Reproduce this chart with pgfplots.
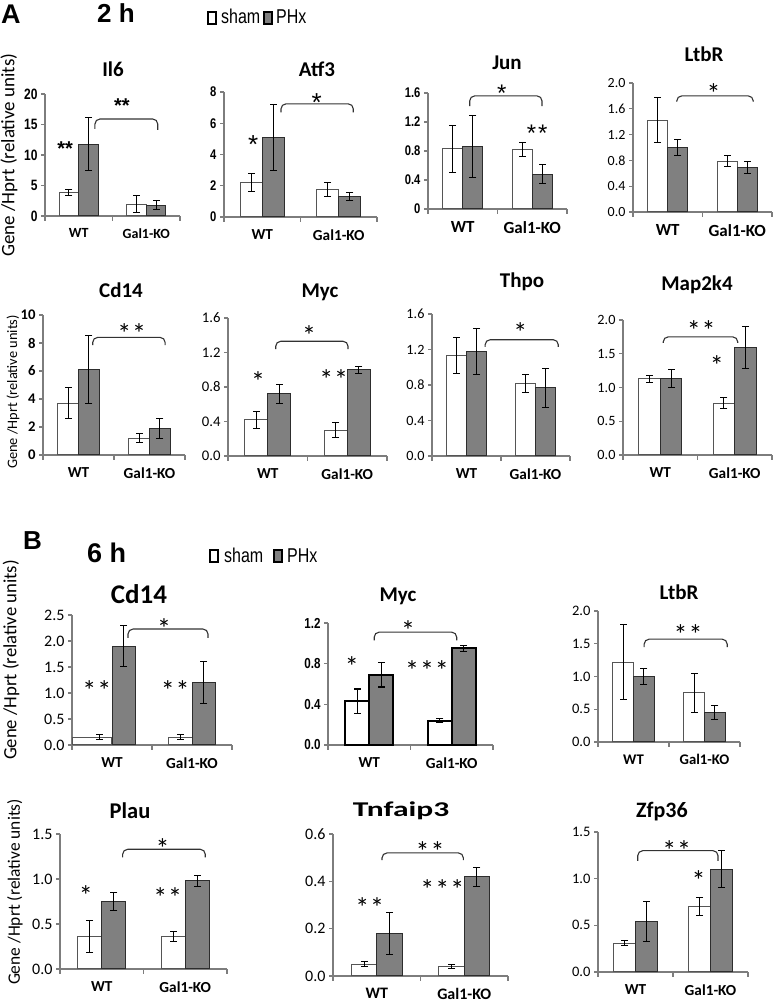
\documentclass[border=0pt]{standalone}
\usepackage{fontspec}
\setmainfont{Carlito}
\newfontfamily\arialf{Liberation Sans}
\newfontfamily\narrowf[FakeStretch=0.8]{Liberation Sans}
\usepackage{pgfplots}
\pgfplotsset{compat=1.18}
\newcommand{\fs}[1]{\fontsize{#1}{#1}\selectfont}
\definecolor{phxc}{RGB}{128,128,128}
\definecolor{phxedge}{RGB}{45,45,45}
\definecolor{shamedge}{RGB}{85,85,85}
\definecolor{axgray}{RGB}{125,125,125}
\definecolor{brkc}{RGB}{50,50,50}
\pgfplotsset{
 panel/.style={scale only axis, anchor=south west,
   axis x line*=bottom, axis y line*=left,
   axis line style={draw=axgray, line width=1.2pt},
   xmin=-0.5, xmax=1.5, ymin=0,
   xtick={0,1}, xticklabels={WT,Gal1-KO},
   minor xtick={-0.5,0.5,1.5},
   tick align=outside,
   tick style={draw=axgray, line width=1.1pt},
   major tick length=4pt, minor tick length=5pt,
   major x tick style={draw=none},
   clip=false,
   xticklabel style={font=\fs{15.3}\bfseries, yshift=-5pt},
   yticklabel style={font=\fs{14.5}}},
 shamb/.style={ybar, bar width=0.29, bar shift=0pt, fill=white, draw=shamedge, line width=1pt},
 phxb/.style={ybar, bar width=0.29, bar shift=0pt, fill=phxc, draw=phxedge, line width=1pt},
 errl/.style={forget plot, draw=black, line width=1pt, mark=-, mark size=3.5pt,
   mark options={solid, draw=black, line width=1pt}, unbounded coords=jump},
}
\tikzset{
 star/.style={anchor=north, inner sep=0pt, font=\fs{28}},
 brk/.style={draw=brkc, line width=1.1pt, rounded corners=5pt},
}
\begin{document}
\begin{tikzpicture}[x=1pt,y=1pt]
\path[use as bounding box] (0,0) rectangle (773,1002);
% headers
\node[anchor=base west, font=\arialf\bfseries\fs{27}, inner sep=0pt] at (1,978) {A};
\node[anchor=base west, font=\arialf\bfseries\fs{26}, inner sep=0pt] at (97,979) {2 h};
\draw[line width=1.3pt, fill=white] (208,978) rectangle (216,990);
\node[anchor=base west, font=\narrowf\fs{20}, inner sep=0pt] at (221,978) {sham};
\draw[line width=1.3pt, fill=phxc] (264,978) rectangle (272,990);
\node[anchor=base west, font=\narrowf\fs{20}, inner sep=0pt] at (276,978) {PHx};
\node[anchor=base west, font=\arialf\bfseries\fs{26}, inner sep=0pt] at (23,452) {B};
\node[anchor=base west, font=\arialf\bfseries\fs{27}, inner sep=0pt] at (87,439) {6 h};
\draw[line width=1.3pt, fill=white] (210,440) rectangle (218,452);
\node[anchor=base west, font=\narrowf\fs{20}, inner sep=0pt] at (224,439) {sham};
\draw[line width=1.3pt, fill=phxc] (274,440) rectangle (282,452);
\node[anchor=base west, font=\narrowf\fs{20}, inner sep=0pt] at (287,439) {PHx};
% y labels
\node[rotate=90, font=\fs{19}, inner sep=0pt] at (9,847) {Gene /Hprt (relative units)};
\node[rotate=90, font=\fs{14.4}, inner sep=0pt] at (13,610) {Gene /Hprt (relative units)};
\node[rotate=90, font=\fs{18.7}, inner sep=0pt] at (11,342) {Gene /Hprt (relative units)};
\node[rotate=90, font=\fs{17.4}, inner sep=0pt] at (15,110) {Gene /Hprt (relative units)};
% titles
\node[anchor=base, font=\bfseries\fs{21}] at (113,925) {Il6};
\node[anchor=base, font=\bfseries\fs{21}] at (317,925) {Atf3};
\node[anchor=base, font=\bfseries\fs{21}] at (507,932) {Jun};
\node[anchor=base, font=\bfseries\fs{21}] at (704,940) {LtbR};
\node[anchor=base, font=\bfseries\fs{21}] at (121,704) {Cd14};
\node[anchor=base, font=\bfseries\fs{21}] at (320,704) {Myc};
\node[anchor=base, font=\bfseries\fs{21}] at (522,714) {Thpo};
\node[anchor=base, font=\bfseries\fs{21}] at (697,711) {Map2k4};
\node[anchor=base, font=\bfseries\fs{27}] at (139,398) {Cd14};
\node[anchor=base, font=\bfseries\fs{21}] at (398,400) {Myc};
\node[anchor=base, font=\bfseries\fs{21}] at (679,402) {LtbR};
\node[anchor=base, font=\bfseries\fs{22.5}] at (130,183) {Plau};
\node[anchor=base, font=\bfseries\fs{21}, xscale=1.5] at (401,185) {Tnfaip3};
\node[anchor=base, font=\bfseries\fs{22}] at (662,184) {Zfp36};

% ---------- Il6
\begin{axis}[panel, at={(45pt,786pt)}, width=135pt, height=122pt, ymax=20,
  ytick={0,5,10,15,20}, yticklabels={0,5,10,15,20},
  yticklabel style={font=\narrowf\bfseries\fs{15}}, xticklabel style={font=\fs{14}\bfseries}]
\addplot[shamb] table[row sep=\\,x=x,y=y]{x y\\ -0.145 3.8\\ 0.855 1.9\\};
\addplot[phxb] table[row sep=\\,x=x,y=y]{x y\\ 0.145 11.8\\ 1.145 1.8\\};
\addplot[errl] coordinates {(-0.145,3.3) (-0.145,4.3) (0,nan) (0.855,0.5) (0.855,3.3) (0,nan) (0.145,7.4) (0.145,16.2) (0,nan) (1.145,1.0) (1.145,2.6)};
\draw[brk] (axis cs:0.24,14.3) -- (axis cs:0.24,15.9) -- (axis cs:1.17,15.9) -- (axis cs:1.17,14.1);
\node[star, font=\arialf\bfseries\fs{20}] at (axis cs:-0.2,12.2) {**};
\node[star, font=\arialf\bfseries\fs{20}] at (axis cs:0.64,19.3) {**};
\end{axis}
% ---------- Atf3
\begin{axis}[panel, at={(224pt,785pt)}, width=153pt, height=125pt, ymax=8,
  ytick={0,2,4,6,8}, yticklabels={0,2,4,6,8},
  yticklabel style={font=\narrowf\bfseries\fs{14}}]
\addplot[shamb] table[row sep=\\,x=x,y=y]{x y\\ -0.145 2.2\\ 0.855 1.75\\};
\addplot[phxb] table[row sep=\\,x=x,y=y]{x y\\ 0.145 5.1\\ 1.145 1.3\\};
\addplot[errl] coordinates {(-0.145,1.6) (-0.145,2.8) (0,nan) (0.855,1.3) (0.855,2.2) (0,nan) (0.145,3.0) (0.145,7.2) (0,nan) (1.145,1.05) (1.145,1.55)};
\draw[brk] (axis cs:0.245,6.7) -- (axis cs:0.245,7.24) -- (axis cs:1.19,7.24) -- (axis cs:1.19,6.7);
\node[star, font=\arialf\fs{26}] at (axis cs:0.71,7.9) {*};
\node[star, font=\arialf\fs{26}] at (axis cs:-0.12,5.25) {*};
\end{axis}
% ---------- Jun
\begin{axis}[panel, at={(428pt,793pt)}, width=139pt, height=116pt, ymax=1.6,
  ytick={0,0.4,0.8,1.2,1.6}, yticklabels={0,0.4,0.8,1.2,1.6},
  yticklabel style={font=\narrowf\bfseries\fs{14}}, xticklabel style={font=\fs{17}\bfseries}]
\addplot[shamb] table[row sep=\\,x=x,y=y]{x y\\ -0.145 0.83\\ 0.855 0.82\\};
\addplot[phxb] table[row sep=\\,x=x,y=y]{x y\\ 0.145 0.86\\ 1.145 0.48\\};
\addplot[errl] coordinates {(-0.145,0.51) (-0.145,1.15) (0,nan) (0.855,0.72) (0.855,0.92) (0,nan) (0.145,0.43) (0.145,1.29) (0,nan) (1.145,0.35) (1.145,0.61)};
\draw[brk] (axis cs:0.10,1.42) -- (axis cs:0.10,1.56) -- (axis cs:1.14,1.56) -- (axis cs:1.14,1.42);
\node[star, font=\arialf\fs{24}] at (axis cs:0.56,1.71) {*};
\node[star, font=\arialf\fs{24}] at (axis cs:1.07,1.16) {*\kern2pt*};
\end{axis}
% ---------- LtbR (2h)
\begin{axis}[panel, at={(633pt,790pt)}, width=139pt, height=129pt, ymax=2,
  ytick={0,0.4,0.8,1.2,1.6,2.0}, yticklabels={0.0,0.4,0.8,1.2,1.6,2.0},
  yticklabel style={font=\fs{14}}, xticklabel style={font=\fs{17}\bfseries}]
\addplot[shamb] table[row sep=\\,x=x,y=y]{x y\\ -0.145 1.42\\ 0.855 0.79\\};
\addplot[phxb] table[row sep=\\,x=x,y=y]{x y\\ 0.145 1.0\\ 1.145 0.69\\};
\addplot[errl] coordinates {(-0.145,1.07) (-0.145,1.77) (0,nan) (0.855,0.70) (0.855,0.88) (0,nan) (0.145,0.88) (0.145,1.12) (0,nan) (1.145,0.60) (1.145,0.78)};
\draw[brk] (axis cs:0.13,1.71) -- (axis cs:0.13,1.80) -- (axis cs:1.23,1.80) -- (axis cs:1.23,1.71);
\node[star] at (axis cs:0.66,2.0) {*};
\end{axis}
% ---------- Cd14 (2h)
\begin{axis}[panel, at={(43pt,547pt)}, width=142pt, height=140pt, ymax=10,
  ytick={0,2,4,6,8,10}, yticklabels={0,2,4,6,8,10},
  yticklabel style={font=\fs{14.7}\bfseries}]
\addplot[shamb] table[row sep=\\,x=x,y=y]{x y\\ -0.145 3.7\\ 0.855 1.2\\};
\addplot[phxb] table[row sep=\\,x=x,y=y]{x y\\ 0.145 6.1\\ 1.145 1.9\\};
\addplot[errl] coordinates {(-0.145,2.6) (-0.145,4.8) (0,nan) (0.855,0.9) (0.855,1.5) (0,nan) (0.145,3.7) (0.145,8.5) (0,nan) (1.145,1.2) (1.145,2.6)};
\draw[brk] (axis cs:0.20,7.85) -- (axis cs:0.20,8.4) -- (axis cs:1.22,8.4) -- (axis cs:1.22,7.85);
\node[star] at (axis cs:0.75,9.4) {*\kern1pt*};
\end{axis}
% ---------- Myc (2h)
\begin{axis}[panel, at={(228pt,546pt)}, width=159pt, height=138pt, ymax=1.6,
  ytick={0,0.4,0.8,1.2,1.6}, yticklabels={0.0,0.4,0.8,1.2,1.6},
  yticklabel style={font=\fs{14.7}}]
\addplot[shamb] table[row sep=\\,x=x,y=y]{x y\\ -0.145 0.42\\ 0.855 0.3\\};
\addplot[phxb] table[row sep=\\,x=x,y=y]{x y\\ 0.145 0.72\\ 1.145 1.0\\};
\addplot[errl] coordinates {(-0.145,0.32) (-0.145,0.52) (0,nan) (0.855,0.21) (0.855,0.39) (0,nan) (0.145,0.61) (0.145,0.83) (0,nan) (1.145,0.96) (1.145,1.04)};
\draw[brk] (axis cs:0.10,1.24) -- (axis cs:0.10,1.33) -- (axis cs:1.01,1.33) -- (axis cs:1.01,1.24);
\node[star] at (axis cs:0.52,1.51) {*};
\node[star] at (axis cs:-0.12,0.98) {*};
\node[star] at (axis cs:0.83,1.0) {*\kern1pt*};
\end{axis}
% ---------- Thpo
\begin{axis}[panel, at={(432pt,546pt)}, width=138pt, height=142pt, ymax=1.6,
  ytick={0,0.4,0.8,1.2,1.6}, yticklabels={0.0,0.4,0.8,1.2,1.6},
  yticklabel style={font=\fs{14.2}}]
\addplot[shamb] table[row sep=\\,x=x,y=y]{x y\\ -0.145 1.13\\ 0.855 0.82\\};
\addplot[phxb] table[row sep=\\,x=x,y=y]{x y\\ 0.145 1.18\\ 1.145 0.77\\};
\addplot[errl] coordinates {(-0.145,0.93) (-0.145,1.33) (0,nan) (0.855,0.72) (0.855,0.92) (0,nan) (0.145,0.92) (0.145,1.44) (0,nan) (1.145,0.55) (1.145,0.99)};
\draw[brk] (axis cs:0.27,1.23) -- (axis cs:0.27,1.31) -- (axis cs:1.33,1.31) -- (axis cs:1.33,1.23);
\node[star] at (axis cs:0.78,1.5) {*};
\end{axis}
% ---------- Map2k4
\begin{axis}[panel, at={(623pt,547pt)}, width=149pt, height=135pt, ymax=2,
  ytick={0,0.5,1,1.5,2}, yticklabels={0.0,0.5,1.0,1.5,2.0},
  yticklabel style={font=\fs{14.2}}]
\addplot[shamb] table[row sep=\\,x=x,y=y]{x y\\ -0.145 1.13\\ 0.855 0.77\\};
\addplot[phxb] table[row sep=\\,x=x,y=y]{x y\\ 0.145 1.13\\ 1.145 1.59\\};
\addplot[errl] coordinates {(-0.145,1.08) (-0.145,1.18) (0,nan) (0.855,0.69) (0.855,0.85) (0,nan) (0.145,1.0) (0.145,1.26) (0,nan) (1.145,1.28) (1.145,1.90)};
\draw[brk] (axis cs:0.04,1.66) -- (axis cs:0.04,1.75) -- (axis cs:1.04,1.75) -- (axis cs:1.04,1.66);
\node[star] at (axis cs:0.55,2.0) {*\kern1pt*};
\node[star] at (axis cs:0.76,1.48) {*};
\end{axis}
% ---------- Cd14 (6h)
\begin{axis}[panel, at={(72pt,257pt)}, width=160pt, height=130pt, ymax=2.5,
  ytick={0,0.5,1,1.5,2,2.5}, yticklabels={0.0,0.5,1.0,1.5,2.0,2.5},
  yticklabel style={font=\fs{16}}]
\addplot[shamb, bar width=0.49] table[row sep=\\,x=x,y=y]{x y\\ -0.255 0.15\\};
\addplot[shamb] table[row sep=\\,x=x,y=y]{x y\\ 0.855 0.15\\};
\addplot[phxb] table[row sep=\\,x=x,y=y]{x y\\ 0.145 1.9\\ 1.145 1.2\\};
\addplot[errl] coordinates {(-0.16,0.10) (-0.16,0.20) (0,nan) (0.855,0.10) (0.855,0.20) (0,nan) (0.145,1.5) (0.145,2.3) (0,nan) (1.145,0.8) (1.145,1.6)};
\draw[brk] (axis cs:0.2,2.06) -- (axis cs:0.2,2.23) -- (axis cs:1.2,2.23) -- (axis cs:1.2,2.06);
\node[star] at (axis cs:0.65,2.44) {*};
\node[star] at (axis cs:-0.19,1.25) {*\kern1pt*};
\node[star] at (axis cs:0.79,1.25) {*\kern1pt*};
\end{axis}
% ---------- Myc (6h)
\begin{axis}[panel, at={(328pt,257pt)}, width=165pt, height=122pt, ymax=1.2,
  ytick={0,0.4,0.8,1.2}, yticklabels={0.0,0.4,0.8,1.2},
  yticklabel style={font=\narrowf\bfseries\fs{14.5}}]
\addplot[shamb, draw=black, line width=2pt] table[row sep=\\,x=x,y=y]{x y\\ -0.145 0.43\\ 0.855 0.24\\};
\addplot[phxb, draw=black, line width=2pt] table[row sep=\\,x=x,y=y]{x y\\ 0.145 0.69\\ 1.145 0.95\\};
\addplot[errl, line width=1.4pt, mark options={solid, draw=black, line width=1.4pt}] coordinates {(-0.145,0.31) (-0.145,0.55) (0,nan) (0.855,0.22) (0.855,0.26) (0,nan) (0.145,0.57) (0.145,0.81) (0,nan) (1.145,0.92) (1.145,0.98)};
\draw[brk] (axis cs:0.06,1.03) -- (axis cs:0.06,1.11) -- (axis cs:1.06,1.11) -- (axis cs:1.06,1.03);
\node[star] at (axis cs:0.47,1.23) {*};
\node[star] at (axis cs:-0.21,0.87) {*};
\node[star] at (axis cs:0.70,0.83) {*\kern1pt*\kern1pt*};
\end{axis}
% ---------- LtbR (6h)
\begin{axis}[panel, at={(598pt,260pt)}, width=142pt, height=131pt, ymax=2,
  ytick={0,0.5,1,1.5,2}, yticklabels={0.0,0.5,1.0,1.5,2.0},
  yticklabel style={font=\fs{14.5}}, xticklabel style={font=\fs{14.7}\bfseries}]
\addplot[shamb] table[row sep=\\,x=x,y=y]{x y\\ -0.145 1.22\\ 0.855 0.75\\};
\addplot[phxb] table[row sep=\\,x=x,y=y]{x y\\ 0.145 1.0\\ 1.145 0.45\\};
\addplot[errl] coordinates {(-0.145,0.65) (-0.145,1.79) (0,nan) (0.855,0.45) (0.855,1.05) (0,nan) (0.145,0.88) (0.145,1.12) (0,nan) (1.145,0.35) (1.145,0.55)};
\draw[brk] (axis cs:0.15,1.45) -- (axis cs:0.15,1.57) -- (axis cs:1.32,1.57) -- (axis cs:1.32,1.45);
\node[star] at (axis cs:0.77,1.8) {*\kern1pt*};
\end{axis}
% ---------- Plau
\begin{axis}[panel, at={(60pt,33pt)}, width=167pt, height=135pt, ymax=1.5,
  ytick={0,0.5,1,1.5}, yticklabels={0.0,0.5,1.0,1.5},
  yticklabel style={font=\fs{16}}]
\addplot[shamb] table[row sep=\\,x=x,y=y]{x y\\ -0.145 0.36\\ 0.855 0.36\\};
\addplot[phxb] table[row sep=\\,x=x,y=y]{x y\\ 0.145 0.75\\ 1.145 0.98\\};
\addplot[errl] coordinates {(-0.145,0.18) (-0.145,0.54) (0,nan) (0.855,0.30) (0.855,0.42) (0,nan) (0.145,0.65) (0.145,0.85) (0,nan) (1.145,0.92) (1.145,1.04)};
\draw[brk] (axis cs:0.25,1.24) -- (axis cs:0.25,1.33) -- (axis cs:1.24,1.33) -- (axis cs:1.24,1.24);
\node[star] at (axis cs:0.73,1.45) {*};
\node[star] at (axis cs:-0.19,0.93) {*};
\node[star] at (axis cs:0.79,0.91) {*\kern1pt*};
\end{axis}
% ---------- Tnfaip3
\begin{axis}[panel, at={(333pt,26pt)}, width=175pt, height=142pt, ymax=0.6,
  ytick={0,0.2,0.4,0.6}, yticklabels={0.0,0.2,0.4,0.6},
  yticklabel style={font=\fs{16}}, xticklabel style={font=\fs{16}\bfseries, yshift=0pt}]
\addplot[shamb] table[row sep=\\,x=x,y=y]{x y\\ -0.145 0.05\\ 0.855 0.04\\};
\addplot[phxb] table[row sep=\\,x=x,y=y]{x y\\ 0.145 0.18\\ 1.145 0.42\\};
\addplot[errl] coordinates {(-0.145,0.04) (-0.145,0.06) (0,nan) (0.855,0.03) (0.855,0.05) (0,nan) (0.145,0.09) (0.145,0.27) (0,nan) (1.145,0.38) (1.145,0.46)};
\draw[brk] (axis cs:0.06,0.49) -- (axis cs:0.06,0.52) -- (axis cs:0.99,0.52) -- (axis cs:0.99,0.49);
\node[star] at (axis cs:0.61,0.57) {*\kern1pt*};
\node[star] at (axis cs:-0.08,0.33) {*\kern1pt*};
\node[star] at (axis cs:0.75,0.41) {*\kern1pt*\kern1pt*};
\end{axis}
% ---------- Zfp36
\begin{axis}[panel, at={(598pt,30pt)}, width=150pt, height=140pt, ymax=1.5,
  ytick={0,0.5,1,1.5}, yticklabels={0.0,0.5,1.0,1.5},
  yticklabel style={font=\fs{14.5}}]
\addplot[shamb] table[row sep=\\,x=x,y=y]{x y\\ -0.145 0.31\\ 0.855 0.7\\};
\addplot[phxb] table[row sep=\\,x=x,y=y]{x y\\ 0.145 0.54\\ 1.145 1.1\\};
\addplot[errl] coordinates {(-0.145,0.28) (-0.145,0.34) (0,nan) (0.855,0.6) (0.855,0.8) (0,nan) (0.145,0.33) (0.145,0.75) (0,nan) (1.145,0.9) (1.145,1.3)};
\draw[brk] (axis cs:0.03,1.19) -- (axis cs:0.03,1.30) -- (axis cs:1.1,1.30) -- (axis cs:1.1,1.19);
\node[star] at (axis cs:0.55,1.41) {*\kern1pt*};
\node[star] at (axis cs:0.84,1.09) {*};
\end{axis}
\end{tikzpicture}
\end{document}
